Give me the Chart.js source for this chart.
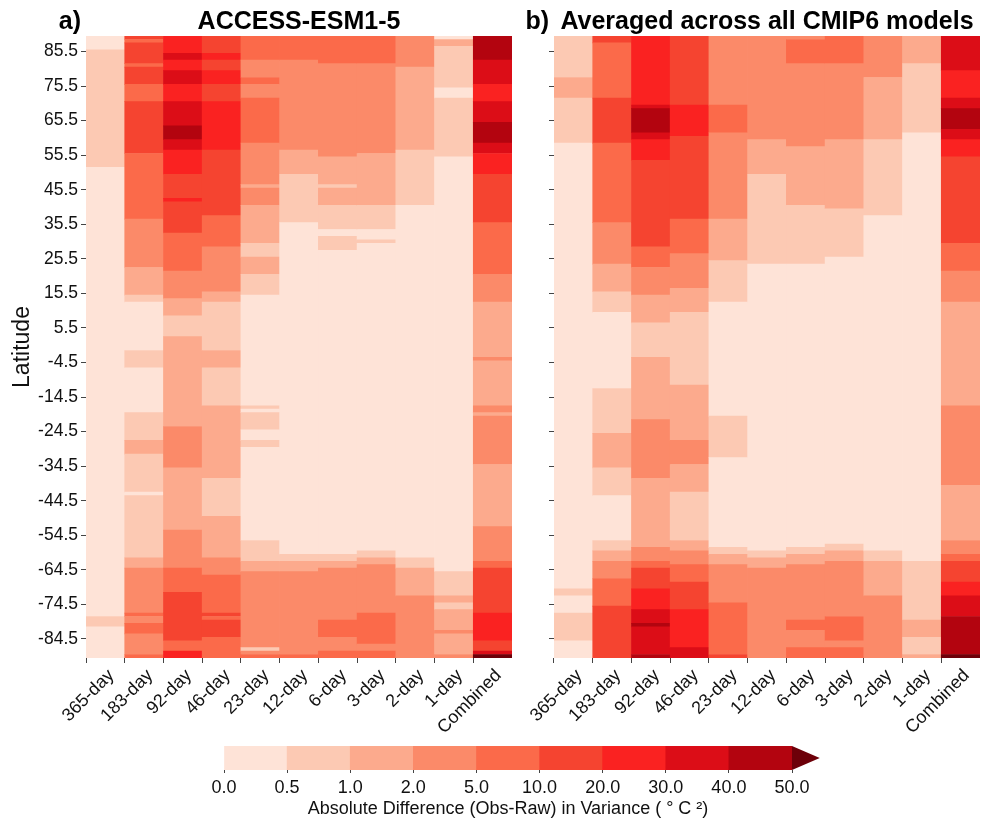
<!DOCTYPE html>
<html>
<head>
<meta charset="utf-8">
<script src="https://cdn.jsdelivr.net/npm/chart.js@4.4.1/dist/chart.umd.min.js"></script>
<style>
  html, body { margin: 0; padding: 0; background: #fff; }
  #wrap { position: relative; width: 981px; height: 823px; }
  .box { position: absolute; }
  #boxA { left: 0; top: 0; width: 520px; height: 735px; }
  #boxB { left: 520px; top: 0; width: 461px; height: 735px; }
  #boxC { left: 200px; top: 735px; width: 640px; height: 88px; }
</style>
</head>
<body>
<div id="wrap">
  <div class="box" id="boxA"><canvas id="chartA"></canvas></div>
  <div class="box" id="boxB"><canvas id="chartB"></canvas></div>
  <div class="box" id="boxC"><canvas id="chartC"></canvas></div>
</div>
<script>
// Categorias (eixo x) e ticks de latitude
const periods = ["365-day", "183-day", "92-day", "46-day", "23-day", "12-day",
                 "6-day", "3-day", "2-day", "1-day", "Combined"];
const latTicks = [85.5, 75.5, 65.5, 55.5, 45.5, 35.5, 25.5, 15.5, 5.5, -4.5,
                  -14.5, -24.5, -34.5, -44.5, -54.5, -64.5, -74.5, -84.5];

// Limites das classes da barra de cores
const levelBounds = ["0.0", "0.5", "1.0", "2.0", "5.0", "10.0", "20.0", "30.0", "40.0", "50.0"];

// Cada coluna: [latitude do topo, classe] -> vai até o topo seguinte (ou -90)
const accessRuns = [
  [[90,0],[86,1],[52,0],[-78,1],[-81,0]],
  [[90,5],[89,4],[88,5],[82,4],[81,5],[76,4],[71,5],[56,4],[37,3],[23,2],[15,1],[13,0],[-1,1],[-6,0],[-19,1],[-27,2],[-31,1],[-42,0],[-43,1],[-61,2],[-64,3],[-77,4],[-78,3],[-80,4],[-83,3],[-89,4]],
  [[90,6],[85,7],[83,6],[80,7],[76,6],[71,7],[64,8],[60,7],[57,6],[50,5],[43,6],[42,5],[33,4],[22,3],[14,2],[9,1],[3,2],[-23,3],[-35,2],[-53,3],[-64,4],[-71,5],[-85,4],[-88,6]],
  [[90,5],[85,6],[83,5],[80,6],[76,5],[71,6],[57,5],[38,4],[29,3],[16,2],[13,1],[-1,2],[-6,1],[-17,2],[-38,1],[-49,2],[-61,3],[-66,4],[-77,5],[-78,4],[-79,5],[-84,4]],
  [[90,4],[83,3],[78,4],[76,3],[72,4],[59,3],[47,2],[46,3],[41,2],[30,1],[26,2],[21,1],[15,0],[-17,1],[-18,0],[-19,1],[-24,0],[-27,1],[-29,0],[-56,1],[-62,2],[-65,3],[-87,1],[-88,3],[-89,4]],
  [[90,4],[83,3],[57,2],[50,1],[36,0],[-60,1],[-62,2],[-65,3],[-89,4]],
  [[90,4],[82,3],[55,2],[47,1],[46,2],[41,1],[34,0],[32,1],[28,0],[-60,1],[-62,2],[-64,3],[-79,4],[-84,3],[-88,4]],
  [[90,4],[82,3],[56,2],[41,1],[34,0],[31,1],[30,0],[-59,1],[-61,2],[-63,3],[-77,4],[-86,3],[-88,4]],
  [[90,3],[81,2],[57,1],[41,0],[-61,1],[-64,2],[-72,3]],
  [[90,0],[89,2],[87,1],[75,0],[72,1],[55,0],[-65,1],[-72,2],[-74,1],[-76,2],[-82,3],[-83,2],[-89,3]],
  [[90,8],[83,7],[76,6],[71,7],[65,8],[59,7],[56,6],[50,5],[36,4],[21,3],[13,2],[-3,3],[-4,2],[-17,3],[-19,2],[-20,3],[-34,2],[-52,3],[-62,4],[-64,5],[-77,6],[-85,5],[-88,7],[-89,9]]
];

const cmipRuns = [
  [[90,1],[78,2],[72,1],[59,0],[-70,1],[-72,0],[-77,1],[-85,0]],
  [[90,5],[88,4],[72,5],[59,4],[36,3],[24,2],[16,1],[10,0],[-12,1],[-25,2],[-35,1],[-43,0],[-56,1],[-59,2],[-62,3],[-67,4],[-75,5]],
  [[90,6],[70,7],[69,8],[62,7],[60,6],[54,5],[29,4],[23,3],[15,2],[7,1],[-3,2],[-21,3],[-38,2],[-58,3],[-62,4],[-64,5],[-70,6],[-76,7],[-80,8],[-81,7],[-89,8]],
  [[90,5],[70,6],[61,5],[37,4],[27,3],[17,2],[10,1],[-11,2],[-27,3],[-34,2],[-42,1],[-56,2],[-59,3],[-63,4],[-68,5],[-76,6],[-87,7]],
  [[90,3],[70,4],[62,3],[37,2],[25,1],[13,0],[-20,1],[-32,0],[-58,1],[-60,2],[-63,3],[-74,4],[-89,5]],
  [[90,3],[60,2],[50,1],[24,0],[-59,1],[-61,2],[-64,3]],
  [[90,3],[89,4],[82,3],[58,2],[41,1],[24,0],[-58,1],[-60,2],[-63,3],[-79,4],[-82,3],[-87,4]],
  [[90,4],[82,3],[60,2],[40,1],[26,0],[-57,1],[-59,2],[-62,3],[-78,4],[-85,3],[-87,4]],
  [[90,3],[78,2],[60,1],[38,0],[-59,1],[-62,2],[-72,3]],
  [[90,2],[82,1],[62,0],[-62,1],[-79,2],[-84,1],[-89,2]],
  [[90,7],[80,6],[72,7],[69,8],[63,7],[60,6],[55,5],[30,4],[22,3],[13,2],[-17,3],[-40,2],[-56,3],[-60,4],[-62,5],[-68,6],[-72,7],[-78,8],[-89,9]]
];

// Paleta (classe 9 = acima de 50, seta da barra de cores)
const levelColors = ["#fee3d7", "#fcc9b3", "#fcaa8d", "#fb8a69", "#fb6a4a",
                     "#f54430", "#fa2221", "#dc0d17", "#b3040f", "#6d0009"];

const FONT = '"Liberation Sans", Arial, sans-serif';

// Título do painel: "a)" + nome centrado na área do gráfico
const panelTitle = {
    id: "panelTitle",
    afterDraw(chart, args, opts) {
        const { ctx, chartArea } = chart;
        ctx.save();
        ctx.fillStyle = "#000";
        ctx.font = "bold 25px " + FONT;
        ctx.textBaseline = "alphabetic";
        ctx.textAlign = "center";
        ctx.fillText(opts.text, (chartArea.left + chartArea.right) / 2, 29);
        ctx.textAlign = "right";
        ctx.fillText(opts.letter, chartArea.left - 5, 29);
        ctx.restore();
    }
};

function makePanel(canvasId, runs, letter, title, showLabels, yWidth, padRight) {
    const points = [];
    runs.forEach((col, i) => {
        col.forEach(([top, lvl], j) => {
            const bottom = j + 1 < col.length ? col[j + 1][0] : -90;
            points.push({ x: periods[i], y: [bottom, top], lvl: lvl });
        });
    });

    return new Chart(document.getElementById(canvasId), {
        type: "bar",
        plugins: [panelTitle],
        data: {
            labels: periods,
            datasets: [{
                data: points,
                backgroundColor: ctx => levelColors[ctx.raw.lvl],
                borderWidth: 0,
                barPercentage: 1,
                categoryPercentage: 1
            }]
        },
        options: {
            responsive: true,
            maintainAspectRatio: false,
            animation: false,
            layout: { padding: { top: 36, right: padRight, left: 0, bottom: 0 } },
            plugins: {
                legend: { display: false },
                tooltip: { enabled: false },
                panelTitle: { letter: letter, text: title }
            },
            scales: {
                x: {
                    type: "category",
                    offset: true,
                    grid: {
                        offset: true,
                        drawOnChartArea: false,
                        tickLength: 5,
                        color: ctx => ctx.index < periods.length ? "#444" : "rgba(0,0,0,0)"
                    },
                    border: { display: false },
                    ticks: {
                        autoSkip: false,
                        minRotation: 45,
                        maxRotation: 45,
                        padding: 2,
                        labelOffset: 6,
                        color: "#111",
                        font: { family: FONT, size: 18 }
                    },
                    afterFit: s => { s.height = 77; }
                },
                y: {
                    type: "linear",
                    min: -90,
                    max: 90,
                    afterBuildTicks: s => { s.ticks = latTicks.map(v => ({ value: v })); },
                    ticks: {
                        display: showLabels,
                        padding: 3,
                        color: "#111",
                        font: { family: FONT, size: 17.5 },
                        callback: v => v.toFixed(1)
                    },
                    grid: { drawOnChartArea: false, tickLength: 5, color: "#444" },
                    border: { display: false },
                    title: {
                        display: showLabels,
                        text: "Latitude",
                        color: "#111",
                        font: { family: FONT, size: 23 },
                        padding: { top: 9, bottom: 0 }
                    },
                    afterFit: s => { s.width = yWidth; }
                }
            }
        }
    });
}

makePanel("chartA", accessRuns, "a)", "ACCESS-ESM1-5", true, 86, 8);
makePanel("chartB", cmipRuns, "b)", "Averaged across all CMIP6 models", false, 34, 1);

// Seta de extensão (> 50) desenhada a partir da escala
const extendArrow = {
    id: "extendArrow",
    afterDatasetsDraw(chart) {
        const { ctx, chartArea, scales: { x } } = chart;
        const last = levelBounds.length - 1;
        const x0 = x.getPixelForValue(last);
        const x1 = x.getPixelForValue(last + 0.44);
        ctx.save();
        ctx.fillStyle = levelColors[levelColors.length - 1];
        ctx.beginPath();
        ctx.moveTo(x0, chartArea.top);
        ctx.lineTo(x1, (chartArea.top + chartArea.bottom) / 2);
        ctx.lineTo(x0, chartArea.bottom);
        ctx.closePath();
        ctx.fill();
        ctx.restore();
    }
};

// Barra de cores
new Chart(document.getElementById("chartC"), {
    type: "bar",
    plugins: [extendArrow],
    data: {
        labels: ["cb"],
        datasets: [{
            data: levelBounds.slice(0, -1).map((b, i) => ({ x: [i, i + 1], y: "cb" })),
            backgroundColor: levelColors.slice(0, levelBounds.length - 1),
            borderWidth: 0,
            barPercentage: 1,
            categoryPercentage: 1
        }]
    },
    options: {
        indexAxis: "y",
        responsive: true,
        maintainAspectRatio: false,
        animation: false,
        layout: { padding: { top: 11, left: 24, right: 48, bottom: 0 } },
        plugins: { legend: { display: false }, tooltip: { enabled: false } },
        scales: {
            x: {
                type: "linear",
                min: 0,
                max: levelBounds.length - 1,
                afterBuildTicks: s => { s.ticks = levelBounds.map((b, i) => ({ value: i })); },
                ticks: {
                    padding: 4,
                    color: "#111",
                    font: { family: FONT, size: 18 },
                    callback: (v, i) => levelBounds[i]
                },
                grid: { drawOnChartArea: false, tickLength: 3, color: "#444" },
                border: { display: false },
                title: {
                    display: true,
                    text: "Absolute Difference (Obs-Raw) in Variance ( ° C ²)",
                    color: "#111",
                    font: { family: FONT, size: 18 },
                    padding: { top: 0, bottom: 3 }
                },
                afterFit: s => { s.height = 53; }
            },
            y: { display: false }
        }
    }
});
</script>
</body>
</html>
